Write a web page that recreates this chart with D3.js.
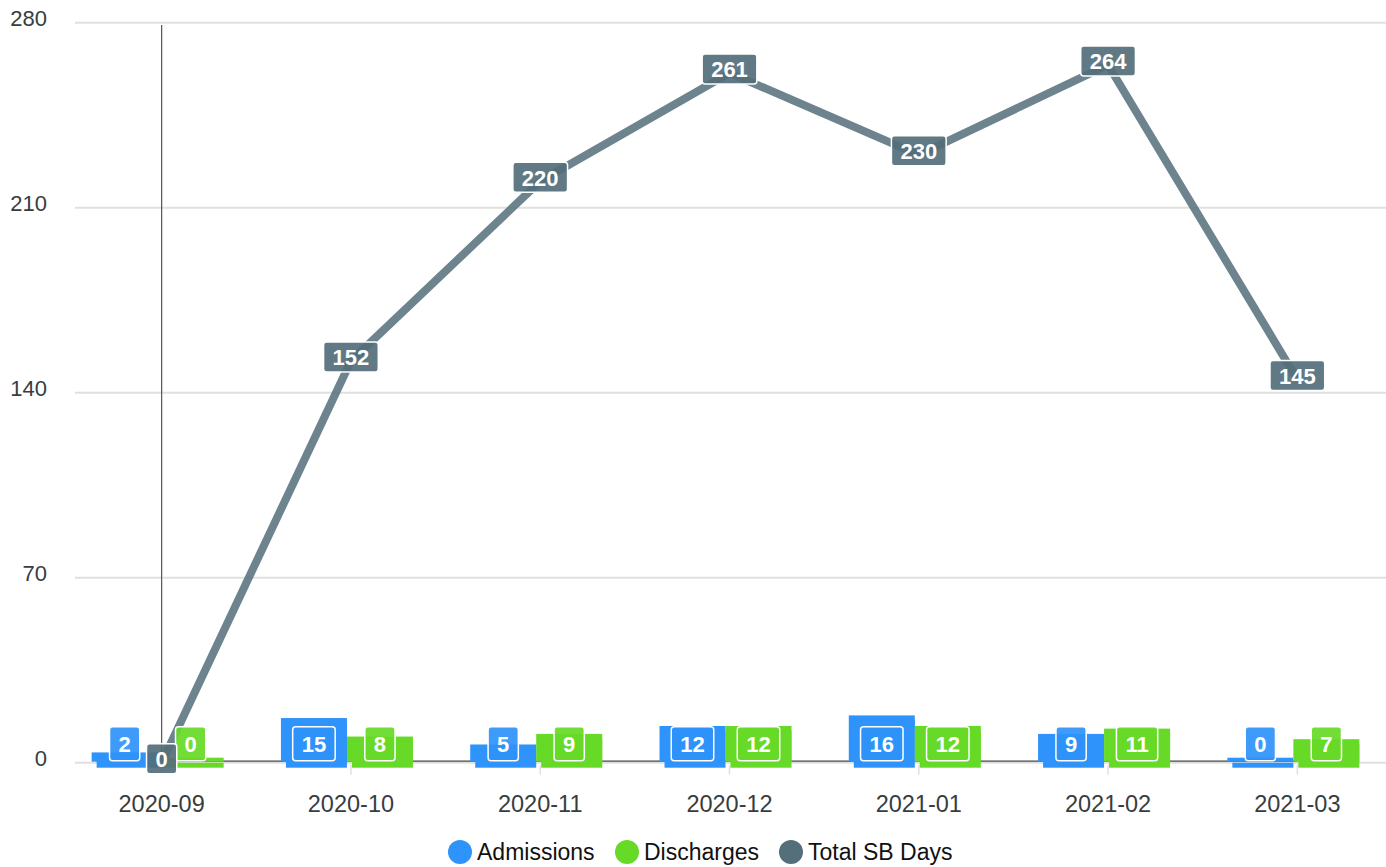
<!DOCTYPE html>
<html><head><meta charset="utf-8">
<script src="https://cdn.jsdelivr.net/npm/d3@7"></script>
<style>html,body{margin:0;padding:0;background:#fff;}svg{display:block;font-family:"Liberation Sans",Arial,Helvetica,sans-serif;}</style>
</head><body>
<svg id="chart" width="1386" height="867"></svg>
<script>
const categories = ["2020-09","2020-10","2020-11","2020-12","2021-01","2021-02","2021-03"];
const admissions = [2,15,5,12,16,9,0];
const discharges = [0,8,9,12,12,11,7];
const totalSBDays = [0,152,220,261,230,264,145];
const yTicks = [0,70,140,210,280];
const seriesNames = ["Admissions","Discharges","Total SB Days"];
const colors = ["#2E93fA","#66DA26","#546E7A"];

const svg = d3.select("#chart");
const x = d3.scalePoint().domain(categories).range([67,1392]).padding(0.5);
const y = d3.scaleLinear().domain([0,280]).range([762.7,22.7]);
const base = y(0);

// grid
svg.append("g").selectAll("line").data(yTicks).join("line")
  .attr("x1",75).attr("x2",1386).attr("y1",d=>y(d)).attr("y2",d=>y(d))
  .attr("stroke","#e0e0e0").attr("stroke-width",2);
svg.append("g").selectAll("text").data(yTicks).join("text")
  .attr("x",47).attr("y",d=>y(d)+3.5).attr("text-anchor","end")
  .attr("font-size",22).attr("fill","#373d3f").text(d=>d);

// x ticks
svg.append("g").selectAll("line").data(categories).join("line")
  .attr("x1",d=>x(d)).attr("x2",d=>x(d)).attr("y1",base+2).attr("y2",base+12)
  .attr("stroke","#e0e0e0").attr("stroke-width",1.5);
svg.append("g").selectAll("text").data(categories).join("text")
  .attr("x",d=>x(d)).attr("y",812).attr("text-anchor","middle")
  .attr("font-size",23.5).attr("fill","#373d3f").text(d=>d);

// crosshair
svg.append("line").attr("x1",x(categories[0])).attr("x2",x(categories[0]))
  .attr("y1",25).attr("y2",base).attr("stroke","#555").attr("stroke-width",1.2);

// dark baseline
svg.append("line").attr("x1",x(categories[0])-15).attr("x2",x(categories[6]))
  .attr("y1",base-1.5).attr("y2",base-1.5).attr("stroke","#444").attr("stroke-width",1.2);

// bars
const barSets = [{vals:admissions,off:-70,color:colors[0]},{vals:discharges,off:-4,color:colors[1]}];
const bw = 66;
barSets.forEach(s=>{
  const g = svg.append("g");
  categories.forEach((c,i)=>{
    const bx = x(c)+s.off, top = y(s.vals[i]);
    g.append("rect").attr("x",bx).attr("y",top-5).attr("width",bw).attr("height",base-top+5-1)
      .attr("fill",s.color);
    g.append("rect").attr("x",bx+5).attr("y",top).attr("width",bw-5).attr("height",base-top+5)
      .attr("fill",s.color);
  });
});

// line
svg.append("path").datum(totalSBDays)
  .attr("d",d3.line().x((d,i)=>x(categories[i])).y(d=>y(d)))
  .attr("fill","none").attr("stroke",colors[2]).attr("stroke-opacity",0.85)
  .attr("stroke-width",8).attr("stroke-linejoin","round");

function label(cx,cy,txt,fill,h,fs){
  const g = svg.append("g");
  const t = g.append("text").attr("x",cx).attr("y",cy).attr("text-anchor","middle")
    .attr("dominant-baseline","central").attr("font-size",fs).attr("font-weight","bold")
    .attr("fill","#fff").text(txt);
  const w = t.node().getComputedTextLength()+18;
  g.insert("rect","text").attr("x",cx-w/2).attr("y",cy-h/2).attr("width",w).attr("height",h)
    .attr("rx",3).attr("fill",fill).attr("fill-opacity",0.92).attr("stroke","#fff").attr("stroke-width",1.5);
  t.attr("y",cy+1);
}
// bar labels
barSets.forEach(s=>{
  categories.forEach((c,i)=>{
    label(x(c)+s.off+bw/2, base-19, String(s.vals[i]), s.color, 34, 22);
  });
});
// line labels
categories.forEach((c,i)=>{
  label(x(c), y(totalSBDays[i])-4, String(totalSBDays[i]), colors[2], 30, 22);
});

// legend
const lx = [460,627,791];
seriesNames.forEach((n,i)=>{
  svg.append("circle").attr("cx",lx[i]).attr("cy",852).attr("r",12).attr("fill",colors[i]);
  svg.append("text").attr("x",lx[i]+17).attr("y",852).attr("dominant-baseline","central")
    .attr("font-size",23).attr("fill","#111").text(n);
});
</script>
</body></html>
